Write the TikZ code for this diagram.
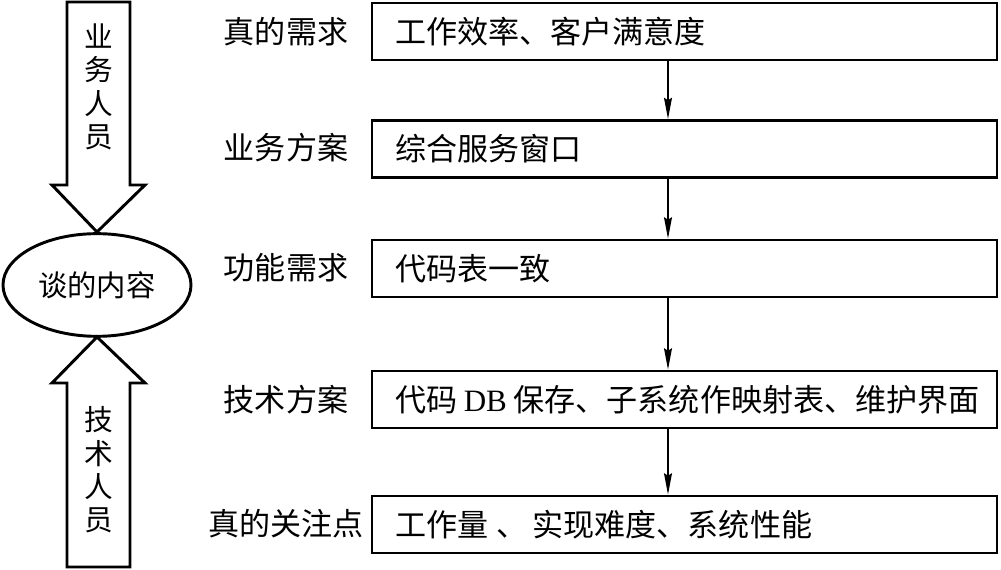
\documentclass[tikz,border=0pt]{standalone}
\usepackage{fontspec}
\setmainfont{Noto Sans CJK SC}
\newfontfamily\latfont{Liberation Serif}
\usetikzlibrary{arrows.meta,shapes.geometric}
\tikzset{
  box/.style={draw, line width=2.2pt, minimum width=468.75pt, minimum height=42.75pt,
    text width=434.25pt, inner xsep=17.25pt, align=left, font=\fontsize{23.3pt}{26pt}\selectfont},
  lbl/.style={font=\fontsize{23.3pt}{26pt}\selectfont, inner sep=0pt},
  flow/.style={line width=1.1pt, -{Stealth[length=16pt,width=6pt,inset=2pt]}},
  bigarrow/.style={draw, line width=2.2pt, line join=miter},
  vtext/.style={align=center, inner sep=0pt, font=\fontsize{21.5pt}{25pt}\selectfont}
}
\begin{document}
\begin{tikzpicture}[x=0.75pt,y=-0.75pt]
\useasboundingbox (0,0) rectangle (1001,570);
% big arrows
\draw[bigarrow] (67,2) -- (67,185) -- (52,185) -- (97,232) -- (145,185) -- (130,185) -- (130,2) -- cycle;
\draw[bigarrow] (67,567) -- (67,383) -- (52,383) -- (97,337) -- (145,383) -- (130,383) -- (130,567) -- cycle;
\node[vtext] (bizpeople) at (98.5,87) {业\\务\\人\\员};
\node[vtext] (techpeople) at (98.5,470) {技\\术\\人\\员};
% ellipse
\node[draw, line width=2.2pt, ellipse, minimum width=141pt, minimum height=77pt, inner sep=0pt,
  font=\fontsize{22pt}{26pt}\selectfont] (talk) at (97,285) {谈的内容};
% labels
\node[lbl] (l1) at (286,32) {真的需求};
\node[lbl] (l2) at (286,148) {业务方案};
\node[lbl] (l3) at (286,268) {功能需求};
\node[lbl] (l4) at (286,400) {技术方案};
\node[lbl] (l5) at (286,524) {真的关注点};
% boxes
\node[box] (b1) at (684.5,31.5) {工作效率、客户满意度};
\node[box] (b2) at (684.5,149) {综合服务窗口};
\node[box] (b3) at (684.5,268.5) {代码表一致};
\node[box] (b4) at (684.5,399.5) {\mbox{代码\hspace{5pt}{\latfont DB}\hspace{5pt}保存、子系统作映射表、维护界面}};
\node[box] (b5) at (684.5,524.5) {工作量\hspace{6pt}、\hspace{4pt}实现难度、系统性能};
\coordinate (ax) at (668,0);
\draw[flow] (b1.south -| ax) -- (b2.north -| ax);
\draw[flow] (b2.south -| ax) -- (b3.north -| ax);
\draw[flow] (b3.south -| ax) -- (b4.north -| ax);
\draw[flow] (b4.south -| ax) -- (b5.north -| ax);
\end{tikzpicture}
\end{document}
